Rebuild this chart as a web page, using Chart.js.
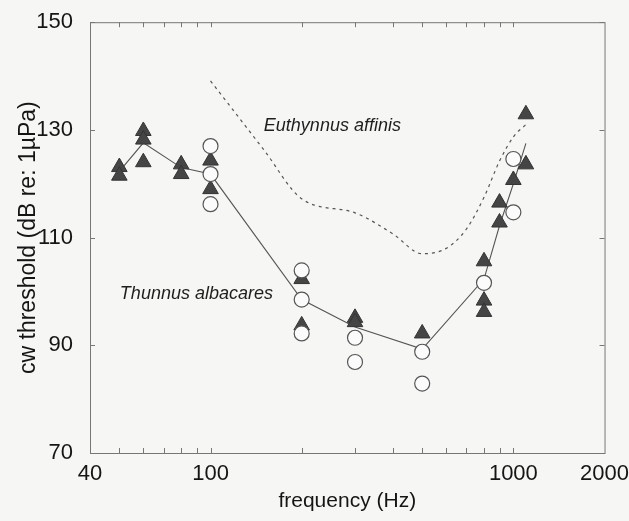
<!DOCTYPE html>
<html>
<head>
    <title>cw threshold</title>
    <script src="https://cdn.jsdelivr.net/npm/chart.js"></script>
    <style>
        body { margin: 0; background: #f6f6f5; }
        canvas { display: block; }
    </style>
</head>
<body>
    <canvas id="chart" width="629" height="521"></canvas>

    <script>
        // Thunnus albacares, filled triangles (one group of fish)
        const triFreq = [50, 50, 60, 60, 60, 80, 80, 100, 100, 200, 200, 300, 300, 500, 800, 800, 800, 900, 900, 1000, 1100, 1100];
        const triThresh = [123.1, 121.5, 129.8, 128.2, 124.0, 123.6, 121.8, 124.3, 119.0, 102.3, 93.7, 95.1, 94.3, 92.2, 105.6, 98.3, 96.2, 116.5, 112.8, 120.7, 132.9, 123.6];

        // Thunnus albacares, open circles (other group)
        const circFreq = [100, 100, 100, 200, 200, 200, 300, 300, 500, 500, 800, 1000, 1000];
        const circThresh = [127.0, 121.8, 116.2, 103.9, 98.5, 92.2, 91.4, 86.9, 88.8, 82.9, 101.6, 124.6, 114.7];

        // mean curve through the Thunnus data
        const meanFreq = [50, 60, 80, 100, 200, 300, 500, 800, 900, 1000, 1100];
        const meanThresh = [122.3, 127.6, 123.0, 121.8, 98.5, 93.4, 89.3, 102.3, 112.2, 120.0, 127.5];

        // Euthynnus affinis audiogram (dotted)
        const affinisFreq = [100, 150, 200, 300, 400, 500, 600, 700, 800, 900, 1000, 1100];
        const affinisThresh = [139.1, 126.3, 117.2, 114.6, 110.7, 107.0, 108.0, 111.6, 117.5, 124.2, 128.7, 131.0];

        const xTicks = [40, 100, 1000, 2000];
        const xMinorTicks = [50, 60, 70, 80, 90, 100, 200, 300, 400, 500, 600, 700, 800, 900, 1000];
        const yTicks = [70, 90, 110, 130, 150];

        const speciesLabels = [
            { text: 'Euthynnus affinis', x: 150, y: 130.7 },
            { text: 'Thunnus albacares', x: 50.2, y: 99.6 }
        ];

        function toPoints(xs, ys) {
            return xs.map((x, i) => ({ x: x, y: ys[i] }));
        }

        // box round the plot, ticks pointing inward, species names
        const framePlugin = {
            id: 'frame',
            afterDatasetsDraw(chart) {
                const ctx = chart.ctx;
                const a = chart.chartArea;
                const xs = chart.scales.x;
                const ys = chart.scales.y;
                ctx.save();
                ctx.strokeStyle = '#777';
                ctx.lineWidth = 1;
                ctx.strokeRect(a.left + 0.5, a.top + 0.5, a.right - a.left, a.bottom - a.top);
                ctx.beginPath();
                xMinorTicks.forEach(v => {
                    const px = Math.round(xs.getPixelForValue(v)) + 0.5;
                    ctx.moveTo(px, a.bottom);
                    ctx.lineTo(px, a.bottom - 5);
                    ctx.moveTo(px, a.top);
                    ctx.lineTo(px, a.top + 5);
                });
                yTicks.forEach(v => {
                    const py = Math.round(ys.getPixelForValue(v)) + 0.5;
                    ctx.moveTo(a.left, py);
                    ctx.lineTo(a.left + 5, py);
                    ctx.moveTo(a.right, py);
                    ctx.lineTo(a.right - 5, py);
                });
                ctx.stroke();

                ctx.fillStyle = '#1e1e1e';
                ctx.font = 'italic 18px "Liberation Sans", Arial, sans-serif';
                ctx.textBaseline = 'middle';
                ctx.textAlign = 'left';
                speciesLabels.forEach(l => {
                    ctx.fillText(l.text, xs.getPixelForValue(l.x), ys.getPixelForValue(l.y));
                });
                ctx.restore();
            }
        };

        const ctx = document.getElementById('chart').getContext('2d');
        const chart = new Chart(ctx, {
            type: 'scatter',
            data: {
                datasets: [
                    {
                        label: 'circles',
                        data: toPoints(circFreq, circThresh),
                        pointStyle: 'circle',
                        pointRadius: 7.5,
                        backgroundColor: '#fbfbfb',
                        borderColor: '#555',
                        borderWidth: 1.2,
                        order: 0
                    },
                    {
                        label: 'triangles',
                        data: toPoints(triFreq, triThresh),
                        pointStyle: 'triangle',
                        pointRadius: 9,
                        backgroundColor: '#454545',
                        borderColor: '#333',
                        borderWidth: 1,
                        order: 1
                    },
                    {
                        label: 'mean',
                        data: toPoints(meanFreq, meanThresh),
                        showLine: true,
                        pointRadius: 0,
                        borderColor: '#555',
                        borderWidth: 1.1,
                        order: 2
                    },
                    {
                        label: 'Euthynnus affinis',
                        data: toPoints(affinisFreq, affinisThresh),
                        showLine: true,
                        cubicInterpolationMode: 'monotone',
                        pointRadius: 0,
                        borderColor: '#555',
                        borderWidth: 1.2,
                        borderDash: [3, 4],
                        order: 3
                    }
                ]
            },
            options: {
                responsive: false,
                animation: false,
                layout: { padding: { left: 0, top: 21, right: 24, bottom: 0 } },
                plugins: {
                    legend: { display: false },
                    tooltip: { enabled: false }
                },
                scales: {
                    x: {
                        type: 'logarithmic',
                        min: 40,
                        max: 2000,
                        grid: { display: false },
                        border: { display: false },
                        afterBuildTicks: (scale) => {
                            scale.ticks = xTicks.map(v => ({ value: v }));
                        },
                        afterFit: (scale) => { scale.height = 68; },
                        ticks: {
                            autoSkip: false,
                            maxRotation: 0,
                            padding: 0,
                            color: '#151515',
                            font: { family: '"Liberation Sans", Arial, sans-serif', size: 22 },
                            callback: (v) => String(v)
                        },
                        title: {
                            display: true,
                            text: 'frequency (Hz)',
                            color: '#151515',
                            padding: { top: 0, bottom: 7 },
                            font: { family: '"Liberation Sans", Arial, sans-serif', size: 21 }
                        }
                    },
                    y: {
                        min: 70,
                        max: 150,
                        grid: { display: false },
                        border: { display: false },
                        afterBuildTicks: (scale) => {
                            scale.ticks = yTicks.map(v => ({ value: v }));
                        },
                        afterFit: (scale) => { scale.width = 90; },
                        ticks: {
                            padding: 9,
                            color: '#151515',
                            font: { family: '"Liberation Sans", Arial, sans-serif', size: 22 }
                        },
                        title: {
                            display: true,
                            text: 'cw threshold (dB re: 1µPa)',
                            color: '#151515',
                            padding: { top: 15, bottom: 0 },
                            font: { family: '"Liberation Sans", Arial, sans-serif', size: 23 }
                        }
                    }
                }
            },
            plugins: [framePlugin]
        });
    </script>
</body>
</html>
